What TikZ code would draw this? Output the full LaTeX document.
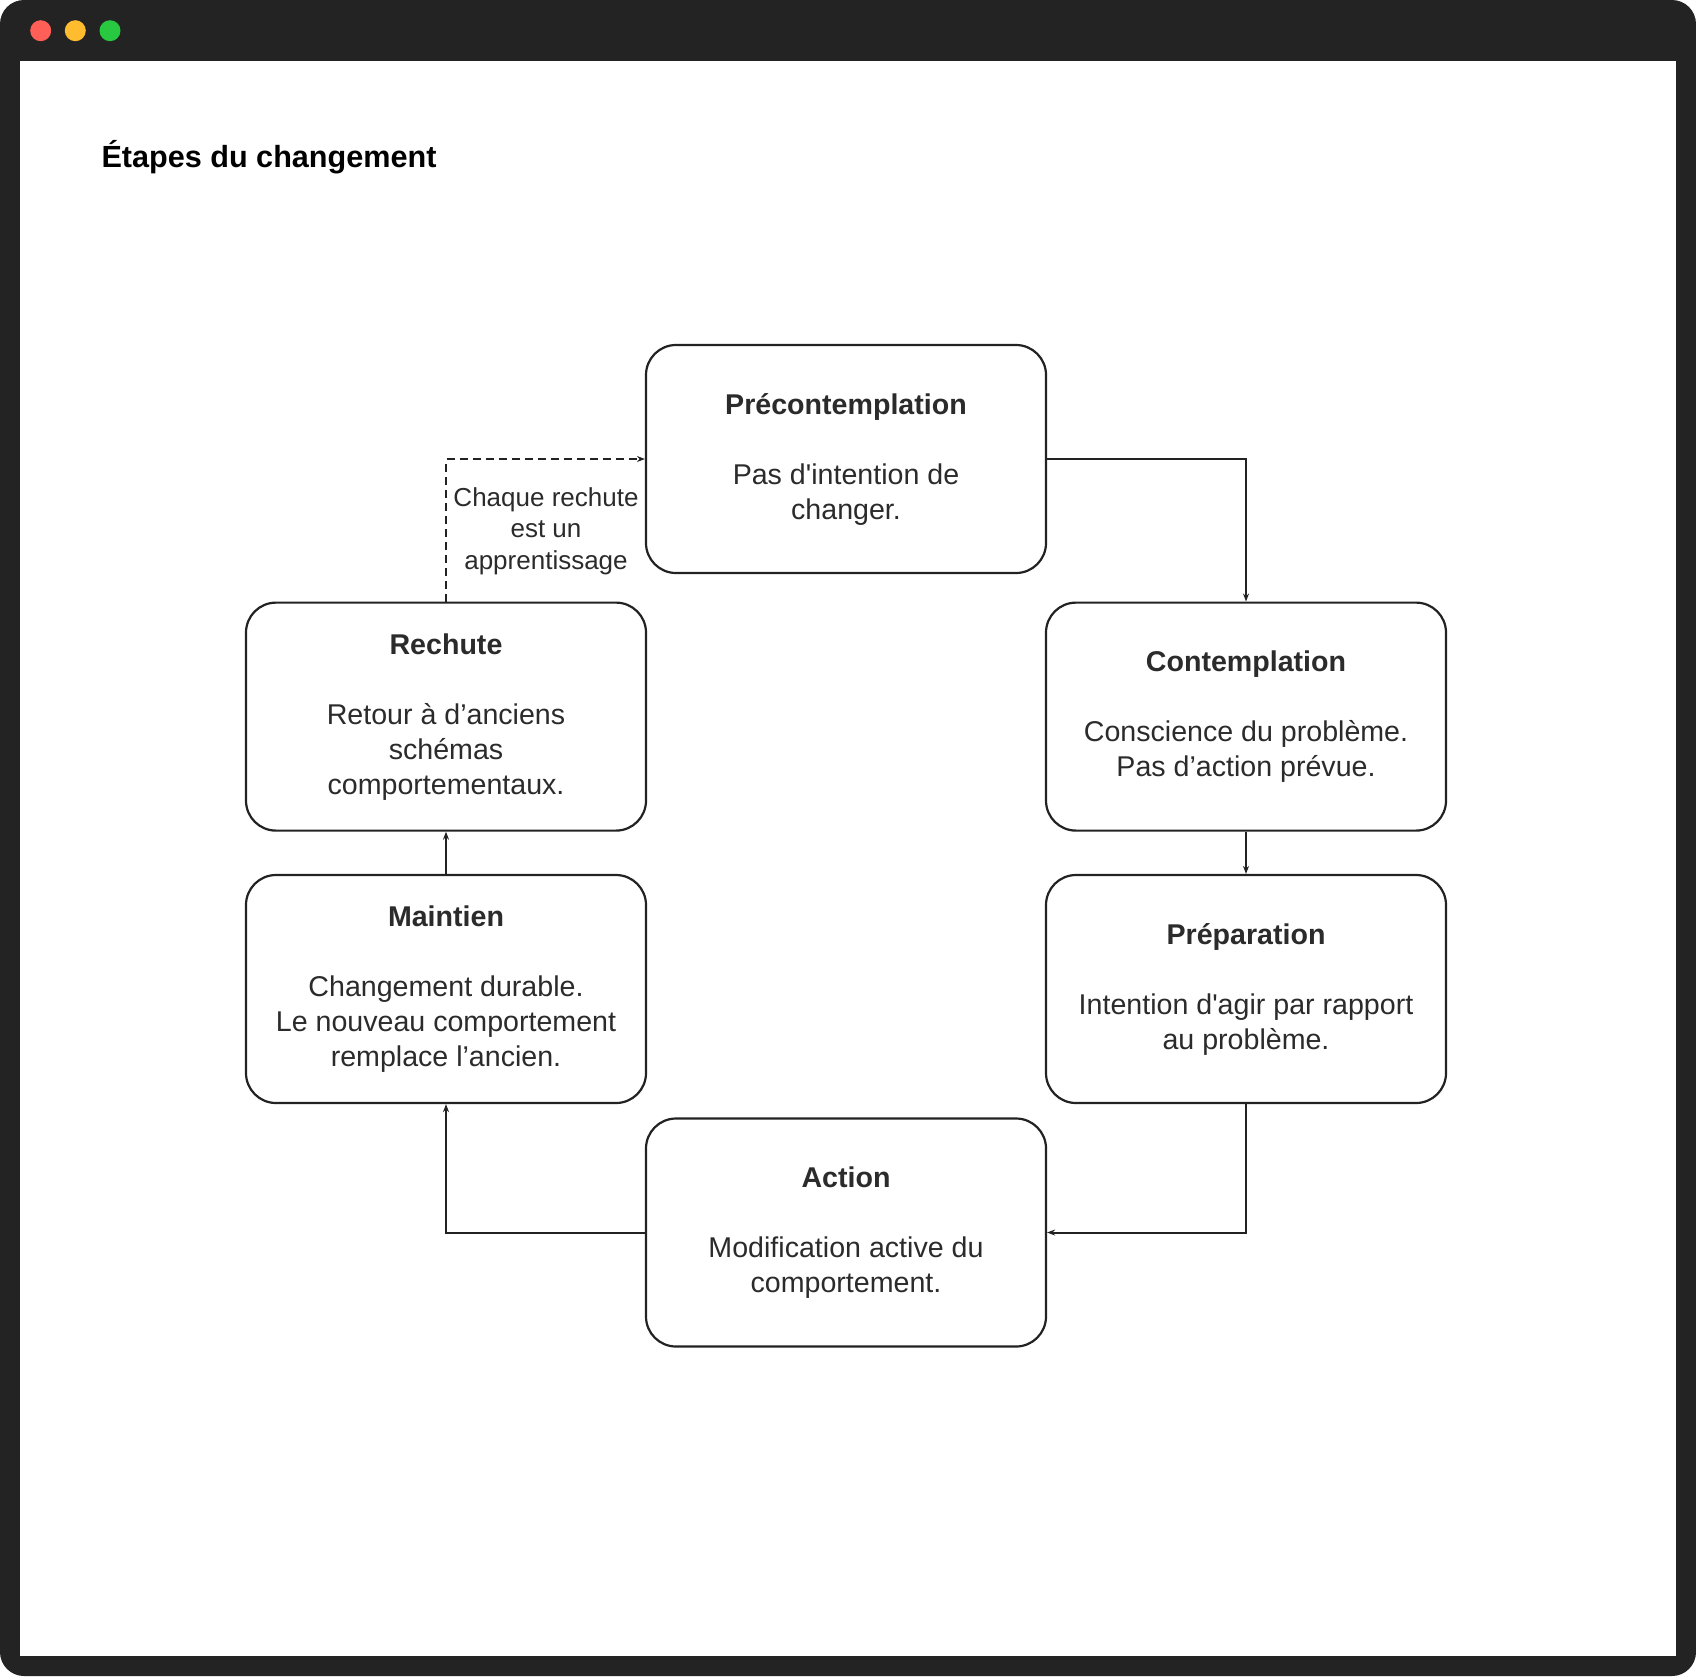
\documentclass[tikz,border=0pt]{standalone}
\usepackage{fontspec}
\setmainfont{Liberation Sans}
\usetikzlibrary{arrows.meta,positioning}
\definecolor{framegray}{HTML}{232323}
\definecolor{linegray}{HTML}{222222}
\definecolor{textgray}{HTML}{2B2B2B}
\definecolor{dotred}{HTML}{FF5F57}
\definecolor{dotyellow}{HTML}{FEBC2E}
\definecolor{dotgreen}{HTML}{28C840}
\tikzstyle{stage}=[draw=linegray, line width=2.2pt, rounded corners=30pt, minimum width=400pt, minimum height=228pt, inner sep=0pt, align=center, text=textgray, font=\fontsize{28.6}{35}\selectfont]
\tikzstyle{flow}=[draw=linegray, line width=2pt, -{Stealth[length=8pt,width=6pt]}]
\tikzstyle{lab}=[align=center, text=textgray, font=\fontsize{26}{31.5}\selectfont]
\tikzstyle{dot}=[circle, minimum size=21pt, inner sep=0pt]

\begin{document}
\begin{tikzpicture}[x=1pt, y=-1pt]
        % window
        \useasboundingbox (0,0) rectangle (1696,1676);
        \fill[framegray, rounded corners=24pt] (0,0) rectangle (1696,1676);
        \fill[white] (20,61) rectangle (1676,1656);
        \node[dot, fill=dotred] (red) at (40.7,30.7) {};
        \node[dot, fill=dotyellow] (yellow) at (75.3,30.7) {};
        \node[dot, fill=dotgreen] (green) at (110,30.7) {};
        \node[anchor=base west, font=\fontsize{30.6}{35}\selectfont\bfseries] (title) at (98,167) {Étapes du changement};
        %
        \node[stage] (pre) at (846,459) {\textbf{Précontemplation}\\[35pt]Pas d\textquotesingle intention de\\changer.};
        \node[stage] (contemp) at (1246,716.6) {\textbf{Contemplation}\\[35pt]Conscience du problème.\\Pas d’action prévue.};
        \node[stage] (prep) at (1246,989) {\textbf{Préparation}\\[35pt]Intention d\textquotesingle agir par rapport\\au problème.};
        \node[stage] (action) at (846,1232.5) {\textbf{Action}\\[35pt]Modification active du\\comportement.};
        \node[stage] (maint) at (446,989) {\textbf{Maintien}\\[35pt]Changement durable.\\Le nouveau comportement\\remplace l’ancien.};
        \node[stage] (rech) at (446,716.6) {\textbf{Rechute}\\[35pt]Retour à d’anciens\\schémas\\comportementaux.};
        \node[lab] (lesson) at (546,531) {Chaque rechute\\est un\\apprentissage};
        %
        \draw[flow] (pre.east) -| (contemp.north);
        \draw[flow] (contemp) -- (prep);
        \draw[flow] (prep.south) |- (action.east);
        \draw[flow] (action.west) -| (maint.south);
        \draw[flow] (maint) -- (rech);
        \draw[flow, dash pattern=on 8pt off 5pt] (rech.north) |- (pre.west);
      %
\end{tikzpicture}
\end{document}
